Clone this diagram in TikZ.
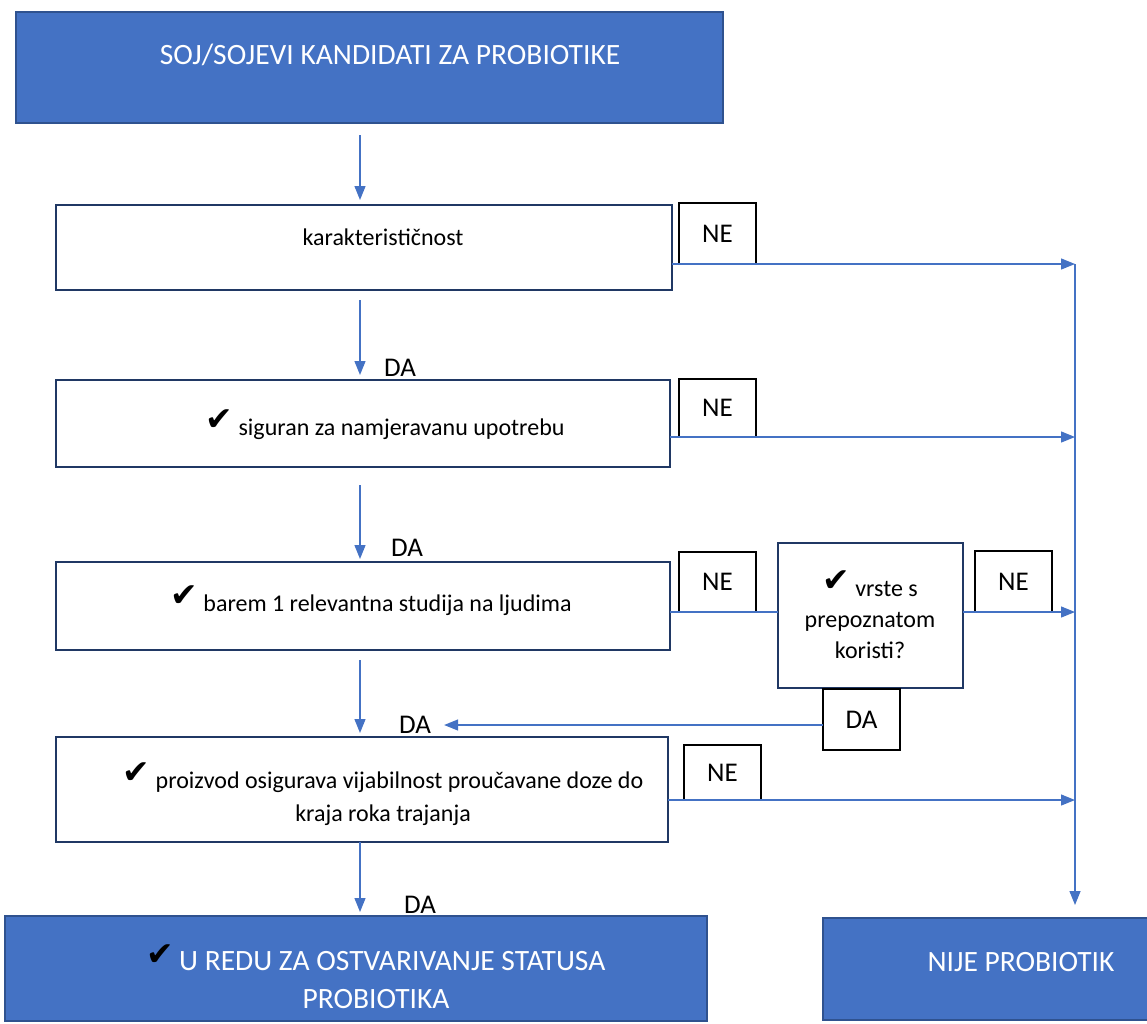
\documentclass[tikz,border=0pt]{standalone}
\usepackage{fontspec}
\setmainfont{Carlito}
\newfontfamily\chkfont{DejaVu Sans}
\usetikzlibrary{arrows.meta,positioning,calc}

\definecolor{boxblue}{HTML}{4472C4}
\definecolor{boxedge}{HTML}{2F528F}
\definecolor{navy}{HTML}{203864}

\newcommand{\tick}{\raisebox{5pt}{\color{black}\chkfont\fontsize{33}{33}\selectfont ✔}}

\tikzset{
  startbox/.style={draw=boxedge, line width=2.5pt, fill=boxblue, inner sep=0pt, outer sep=0pt},
  stepbox/.style={draw=navy, line width=2pt, fill=white, inner sep=0pt, outer sep=0pt},
  answer/.style={draw=black, line width=1.8pt, fill=white, minimum width=77pt, inner sep=0pt, outer sep=0pt, font=\fontsize{27}{30}\selectfont},
  btext/.style={font=\fontsize{24}{33}\selectfont, align=center, inner sep=0pt},
  wtext/.style={text=white, font=\fontsize{29.5}{38}\selectfont, align=center, inner sep=0pt},
  lbl/.style={font=\fontsize{27}{30}\selectfont, inner sep=0pt},
  flow/.style={draw=boxblue, line width=1.3pt}
}

\begin{document}
\begin{tikzpicture}[x=1pt, y=-1pt, >={Triangle[length=14pt,width=11pt]}]
  \useasboundingbox (0,0) rectangle (1147,1023);
  \coordinate (spine) at (360,0);
  \coordinate (rail)  at (1075,0);

  % main column
  \node[startbox, minimum width=707pt, minimum height=111pt] (top) at (369.5,67.5) {};
  \node[stepbox, minimum width=616pt, minimum height=85pt]  (k1) at (364,247.5) {};
  \node[stepbox, minimum width=614pt, minimum height=87pt]  (k2) at (363,423.5) {};
  \node[stepbox, minimum width=614pt, minimum height=88pt]  (k3) at (363,606) {};
  \node[stepbox, minimum width=612pt, minimum height=105pt] (k4) at (362,789.5) {};
  \node[startbox, minimum width=702pt, minimum height=105pt] (okbox) at (356,968.5) {};

  % side boxes
  \node[stepbox, minimum width=185pt, minimum height=145pt] (vrste) at (870.5,615.5) {};
  \node[startbox, minimum width=327pt, minimum height=102pt] (nije) at (986.5,969) {};

  % texts
  \node[wtext] (ttop) at (390,55) {SOJ/SOJEVI KANDIDATI ZA PROBIOTIKE};
  \node[btext] (t1) at (383,237) {karakterističnost};
  \node[btext] (t2) at (385,425) {\tick\ siguran za namjeravanu upotrebu};
  \node[btext] (t3) at (371,601) {\tick\ barem 1 relevantna studija na ljudima};
  \node[btext] (t4) at (383,794) {\tick\ proizvod osigurava vijabilnost proučavane doze do\\kraja roka trajanja};
  \node[btext, font=\fontsize{24}{31}\selectfont] (tv) at (870,615) {\tick\ vrste s\\prepoznatom\\koristi?};
  \node[wtext] (tok) at (376,977) {\tick\,U REDU ZA OSTVARIVANJE STATUSA\\PROBIOTIKA};
  \node[wtext] (tnije) at (1021,962) {NIJE PROBIOTIK};

  % answers
  \node[answer, minimum height=61pt] (ne1) at (717.5,233.5) {NE};
  \node[answer, minimum height=58pt] (ne2) at (717.5,408) {NE};
  \node[answer, minimum height=60pt] (ne3) at (717.5,582) {NE};
  \node[answer, minimum height=61pt] (ne4) at (1013.5,581.5) {NE};
  \node[answer, minimum height=61pt] (dab) at (861.5,719.5) {DA};
  \node[answer, minimum height=55pt] (ne5) at (722.5,772.5) {NE};

  \node[lbl] (da1) at (400,368) {DA};
  \node[lbl] (da2) at (407,548) {DA};
  \node[lbl] (da3) at (415,725) {DA};
  \node[lbl] (da4) at (420,905) {DA};

  % down the column
  \draw[flow,->,shorten <=12pt,shorten >=5pt] (top.south -| spine) -- (k1.north -| spine);
  \draw[flow,->,shorten <=10pt,shorten >=5pt] (k1.south -| spine) -- (k2.north -| spine);
  \draw[flow,->,shorten <=18pt,shorten >=3pt] (k2.south -| spine) -- (k3.north -| spine);
  \draw[flow,->,shorten <=10pt,shorten >=4pt] (k3.south -| spine) -- (k4.north -| spine);
  \draw[flow,->,shorten >=4pt] (k4.south -| spine) -- (okbox.north -| spine);

  % to the rail
  \draw[flow,->] (ne1.south -| k1.east) -- (ne1.south -| rail);
  \draw[flow,->] (ne2.south -| k2.east) -- (ne2.south -| rail);
  \draw[flow] (ne3.south -| k3.east) -- (ne3.south -| vrste.west);
  \draw[flow,->] (ne4.south -| vrste.east) -- (ne4.south -| rail);
  \draw[flow,->] (ne5.south -| k4.east) -- (ne5.south -| rail);
  \draw[flow,->,shorten >=13pt] (ne1.south -| rail) -- (nije.north -| rail);

  % back to the column
  \draw[flow,->,shorten >=13pt] (dab.west |- da3) -- (da3.east);
\end{tikzpicture}
\end{document}
